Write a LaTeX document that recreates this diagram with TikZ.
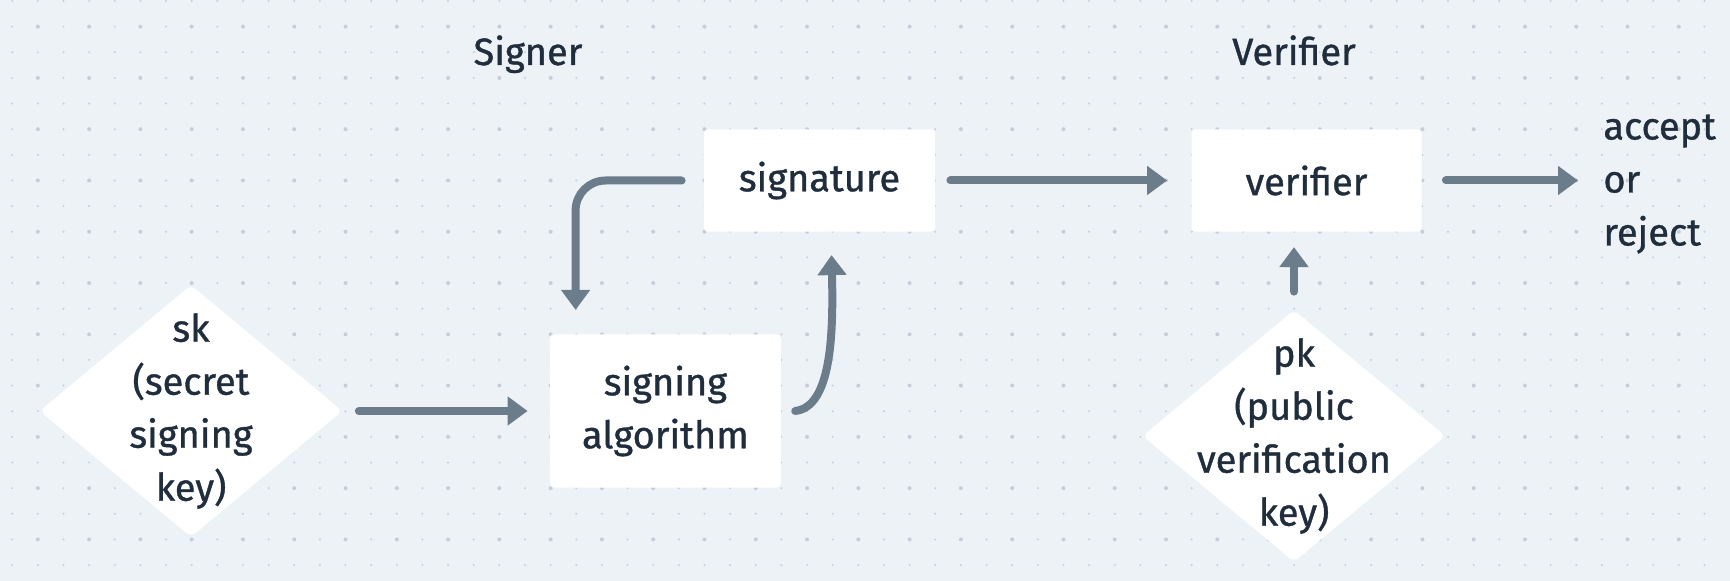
\documentclass[tikz,border=0pt]{standalone}
\usepackage{fontspec}
\setmainfont{Fira Sans}[FakeBold=0.9]
\usetikzlibrary{arrows.meta,shapes.geometric}
\definecolor{paper}{HTML}{EDF2F7}
\definecolor{dotc}{HTML}{C5CED8}
\definecolor{ink}{HTML}{1F2D3D}
\definecolor{wire}{HTML}{6B7C8B}
\tikzset{
	textnode/.style = {align=center, inner sep=0pt, text=ink, font=\fontsize{19}{26.5}\selectfont},
	procbox/.style = {textnode, rectangle, fill=white, rounded corners=2pt},
	keybox/.style = {diamond, fill=white, rounded corners=3pt, inner sep=0pt, minimum width=151.5pt, minimum height=126pt},
	flow/.style = {draw=wire, line width=4pt, line cap=round, -{Triangle[width=14pt,length=10pt]}}
}
\begin{document}
\begin{tikzpicture}[x=0.5pt, y=-0.5pt]
		\fill[paper] (0,0) rectangle (1730,581);
		\useasboundingbox (0,0) rectangle (1730,581);
		\foreach \i in {0,...,66}{
			\foreach \j in {0,...,22}{
				\pgfmathsetmacro\dotr{(mod(\i,2)*mod(\j,2)==1) ? 1 : 0.55}
				\fill[dotc] (12.2+25.64*\i, 1+25.64*\j) circle[radius=\dotr pt];
			}
		}
		\node [textnode, anchor=base] (signer) at (528,65) {Signer};
		\node [textnode, anchor=base] (verifierlbl) at (1294,65) {Verifier};
		\node [procbox, minimum width=115.5pt, minimum height=51.2pt] (sig) at (819.5,180.5) {signature};
		\node [procbox, minimum width=115pt, minimum height=51.2pt] (ver) at (1306.5,180.5) {verifier};
		\node [procbox, minimum width=115.4pt, minimum height=76.7pt] (alg) at (665.4,411) {signing\\algorithm};
		\node [keybox] (sk) at (191,411) {};
		\node [textnode] (sktext) at (sk) {sk\\(secret\\signing\\key)};
		\node [keybox] (pk) at (1294,436) {};
		\node [textnode] (pktext) at (pk) {pk\\(public\\verification\\key)};
		\node [textnode, align=left, anchor=west] (result) at (1603,184) {accept\\or\\reject};
		\draw [flow, shorten <=8pt, shorten >=11pt] (sk.east) -- (alg.west);
		\draw [flow, rounded corners=15pt, shorten <=11pt, shorten >=12pt] (sig.west) -| ([xshift=13pt]alg.north west);
		\draw [flow] ([xshift=7pt]alg.east) .. controls +(18pt,2pt) and +(1pt,-40pt) .. ([xshift=6pt,yshift=-11.5pt]sig.south);
		\draw [flow, shorten <=7.5pt, shorten >=12pt] (sig.east) -- (ver.west);
		\draw [flow, shorten <=12pt, shorten >=12.5pt] (ver.east) -- (ver.east -| result.west);
		\draw [flow, shorten <=9pt, shorten >=7.5pt] (pk.north) -- (pk.north |- ver.south);
\end{tikzpicture}
\end{document}
